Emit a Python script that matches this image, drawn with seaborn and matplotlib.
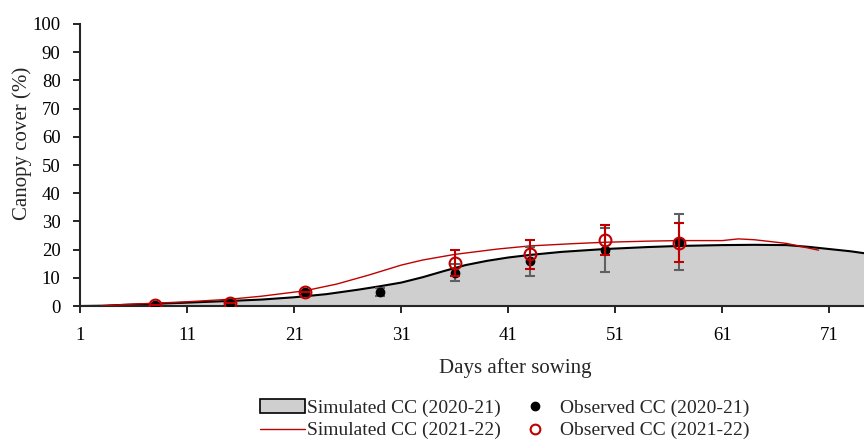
import matplotlib
matplotlib.use("Agg")
import matplotlib.pyplot as plt
import pandas as pd
import seaborn as sns
from matplotlib.lines import Line2D
from matplotlib.patches import Patch

# simulated canopy cover, 2020-21 (filled curve)
sim1_days = [1, 3, 5, 8, 11, 15, 18, 21, 24, 27, 29, 31, 33, 35, 37, 39, 41, 43,
             46, 50, 54, 57, 61, 64, 67, 69, 71, 73, 74.3]
sim1_cc = [0, 0.1, 0.4, 0.8, 1.2, 1.8, 2.3, 3.1, 4.2, 5.8, 7.0, 8.3, 10.2, 12.4,
           14.5, 16.0, 17.2, 18.1, 19.2, 20.2, 20.9, 21.3, 21.6, 21.7, 21.6,
           21.0, 20.2, 19.4, 18.7]

# simulated canopy cover, 2021-22 (red line)
sim2_days = [3, 5, 8, 11, 15, 18, 22, 25, 28, 31, 33, 36, 40, 43, 47, 50, 54,
             57, 61, 62.5, 64, 67, 70]
sim2_cc = [0, 0.5, 1.0, 1.5, 2.4, 3.5, 5.4, 7.8, 11.0, 14.5, 16.3, 18.3, 20.2,
           21.3, 22.1, 22.6, 23.0, 23.2, 23.2, 23.8, 23.5, 22.2, 19.8]

# observed canopy cover
obs1_days = [8, 15, 22, 29, 36, 43, 50, 57]
obs1_cc = [0.5, 1.0, 4.8, 5.0, 11.8, 15.8, 19.8, 22.8]
obs1_err = [0, 0, 0, 1.5, 3.0, 5.2, 7.7, 10.0]

obs2_days = [8, 15, 22, 36, 43, 50, 57]
obs2_cc = [0.4, 0.9, 5.1, 15.2, 18.3, 23.4, 22.5]
obs2_err = [0, 0, 0, 4.5, 5.0, 5.2, 7.0]

sim1 = pd.DataFrame({"day": sim1_days, "cc": sim1_cc})
sim2 = pd.DataFrame({"day": sim2_days, "cc": sim2_cc})

sns.set_style("ticks")
plt.rcParams["font.family"] = ["Liberation Serif", "DejaVu Serif"]
plt.rcParams["font.size"] = 13

fig = plt.figure(figsize=(8.64, 4.4), dpi=100)
ax = fig.add_axes([0.0926, 0.3045, 0.9074, 0.641])

fill_col = "#d0cfd0"
red = "#c00000"

ax.fill_between(sim1["day"], sim1["cc"], color=fill_col, zorder=1)
sns.lineplot(data=sim1, x="day", y="cc", color="black", linewidth=1.5, ax=ax, zorder=2)
sns.lineplot(data=sim2, x="day", y="cc", color=red, linewidth=1.0, ax=ax, zorder=3)

ax.errorbar(obs1_days, obs1_cc, yerr=obs1_err, fmt="o", color="black",
            ecolor="#606060", elinewidth=1.5, capsize=3.6, capthick=1.5,
            markersize=6, zorder=4)
ax.errorbar(obs2_days, obs2_cc, yerr=obs2_err, fmt="o", mfc="none", mec=red,
            mew=1.5, ecolor=red, elinewidth=1.5, capsize=3.6, capthick=1.5,
            markersize=8.5, zorder=5)

ax.set_xlim(1, 74.24)
ax.set_ylim(0, 100)
ax.set_xticks(range(1, 72, 10))
ax.set_yticks(range(0, 101, 10))
ax.set_xlabel("Days after sowing", fontsize=15, labelpad=10, x=0.555)
ax.set_ylabel("Canopy cover (%)", fontsize=15)
ax.yaxis.set_label_coords(-0.0615, 0.578)
ax.tick_params(direction="out", length=5, width=1.2, colors="black", labelsize=13.5)
ax.tick_params(axis="x", pad=10)
ax.tick_params(axis="y", pad=9)
for side in ["top", "right"]:
    ax.spines[side].set_visible(False)
for side in ["left", "bottom"]:
    ax.spines[side].set_linewidth(1.5)

handles = [
    Patch(facecolor=fill_col, edgecolor="black", linewidth=1.2),
    Line2D([0], [0], color=red, linewidth=1.0),
    Line2D([0], [0], marker="o", color="none", mfc="black", mec="black", markersize=6),
    Line2D([0], [0], marker="o", color="none", mfc="none", mec=red, mew=1.5, markersize=7),
]
labels = ["Simulated CC (2020-21)", "Simulated CC (2021-22)",
          "Observed CC (2020-21)", "Observed CC (2021-22)"]
fig.legend(handles, labels, ncol=2, loc="center", bbox_to_anchor=(0.5845, 0.047),
           frameon=False, fontsize=14, handlelength=2.27, handletextpad=0.15,
           columnspacing=0.6, labelspacing=0.25)

fig.savefig("out.png", dpi=100)
